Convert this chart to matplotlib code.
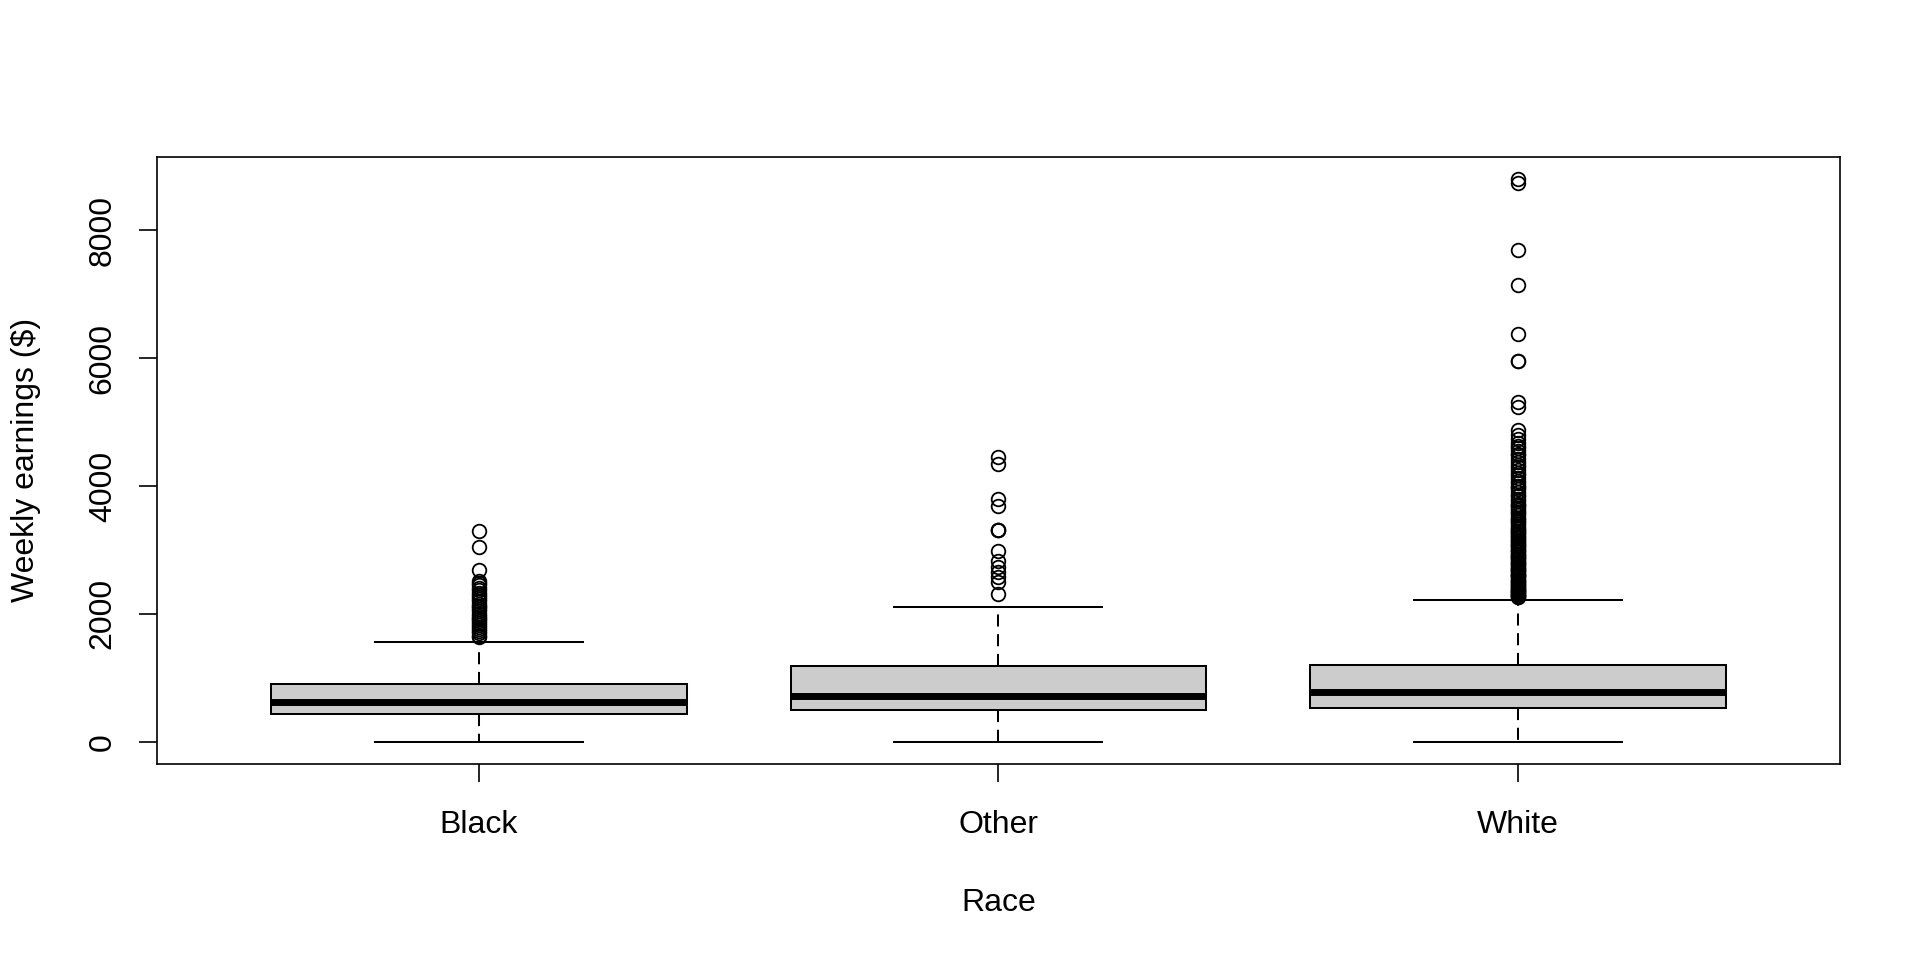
import numpy as np
import matplotlib
matplotlib.use("Agg")
import matplotlib.pyplot as plt

plt.rcParams['font.family'] = ['Liberation Sans', 'DejaVu Sans']

# ---- data ----
categories = ["Black", "Other", "White"]
q1 = [440, 498, 534]
medians = [613, 717, 780]
q3 = [901, 1188, 1203]
whisker_low = [2, 1, 0]
whisker_high = [1553, 2101, 2215]

outliers_black = [3303, 3052, 2687, 2519, 2480, 2450, 2400, 2370, 2330, 2300,
                  2260, 2230, 2200, 2160, 2120, 2100, 2070, 2040, 2000, 1970,
                  1940, 1920, 1890, 1860, 1830, 1800, 1770, 1730, 1700, 1660, 1640]
outliers_other = [4451, 4347, 3799, 3694, 3313, 3310, 3305, 2990, 2833, 2728,
                  2650, 2571, 2493, 2311]
outliers_white = [8800, 8740, 7690, 7150, 6385, 5960, 5950, 5310, 5230, 4870,
                  4800, 4730, 4680, 4620, 4600, 4550, 4500, 4480, 4420, 4380,
                  4330, 4300, 4250, 4200, 4170, 4120, 4080, 4040, 4000, 3980,
                  3950, 3900, 3860, 3840, 3800, 3760, 3720, 3700, 3680, 3650,
                  3620, 3600, 3570, 3540, 3500, 3480, 3460, 3430, 3400, 3380,
                  3350, 3330, 3300, 3290, 3270, 3250, 3220, 3200, 3180, 3160,
                  3140, 3120, 3100, 3080, 3060, 3040, 3020, 3000, 2980, 2960,
                  2940, 2920, 2900, 2885, 2870, 2850, 2830, 2810, 2800, 2780,
                  2760, 2740, 2720, 2700, 2690, 2670, 2650, 2630, 2610, 2600,
                  2585, 2570, 2550, 2530, 2510, 2500, 2490, 2470, 2450, 2430,
                  2420, 2400, 2390, 2375, 2360, 2350, 2335, 2320, 2310, 2300,
                  2290, 2280, 2270, 2260]
outliers = [outliers_black, outliers_other, outliers_white]

y_ticks = [0, 2000, 4000, 6000, 8000]
x_label = "Race"
y_label = "Weekly earnings ($)"

# ---- figure ----
fig = plt.figure(figsize=(19.2, 9.6), dpi=100)
ax = fig.add_axes([0.0816, 0.204, 0.9584 - 0.0816, 0.8368 - 0.204])

stats = []
for i, cat in enumerate(categories):
    stats.append(dict(label=cat, med=medians[i], q1=q1[i], q3=q3[i],
                      whislo=whisker_low[i], whishi=whisker_high[i],
                      fliers=np.array(outliers[i], dtype=float)))

positions = np.arange(1, len(categories) + 1)
lw = 1.45
ax.bxp(stats, positions=positions, widths=0.8, capwidths=0.4,
       patch_artist=True, showfliers=True,
       boxprops=dict(facecolor='#CCCCCC', edgecolor='black', linewidth=lw),
       medianprops=dict(color='black', linewidth=5, solid_capstyle='butt'),
       whiskerprops=dict(color='black', linestyle=(0, (6.0, 3.8)), linewidth=lw),
       capprops=dict(color='black', linewidth=lw),
       flierprops=dict(marker='o', markerfacecolor='none', markeredgecolor='black',
                       markersize=9.8, markeredgewidth=1.3, linestyle='none'))

# R-style axis ranges (4% padding)
all_vals = np.concatenate([np.array(o, float) for o in outliers] + [np.array(whisker_low, float)])
lo, hi = all_vals.min(), all_vals.max()
pad = 0.04 * (hi - lo)
ax.set_ylim(lo - pad, hi + pad)
n = len(categories)
xpad = 0.04 * n
ax.set_xlim(0.5 - xpad, n + 0.5 + xpad)

ax.set_xticks(positions)
ax.set_xticklabels(categories)
ax.set_yticks(y_ticks)
ax.set_yticklabels([str(t) for t in y_ticks])

for s in ax.spines.values():
    s.set_linewidth(1.2)
    s.set_color('black')

ax.tick_params(axis='both', direction='out', length=13, width=1.2, labelsize=23,
               colors='black')
ax.tick_params(axis='x', pad=20)
ax.tick_params(axis='y', pad=15)
for lab in ax.get_yticklabels():
    lab.set_rotation(90)
    lab.set_va('center')

ax.set_xlabel(x_label, fontsize=23)
ax.set_ylabel(y_label, fontsize=23)
ax.xaxis.set_label_coords(0.5, -0.228)
ax.xaxis.label.set_va('center')
ax.yaxis.set_label_coords(-0.0775, 0.5)
ax.yaxis.label.set_va('center')

fig.savefig("out.png", dpi=100, facecolor='white')
